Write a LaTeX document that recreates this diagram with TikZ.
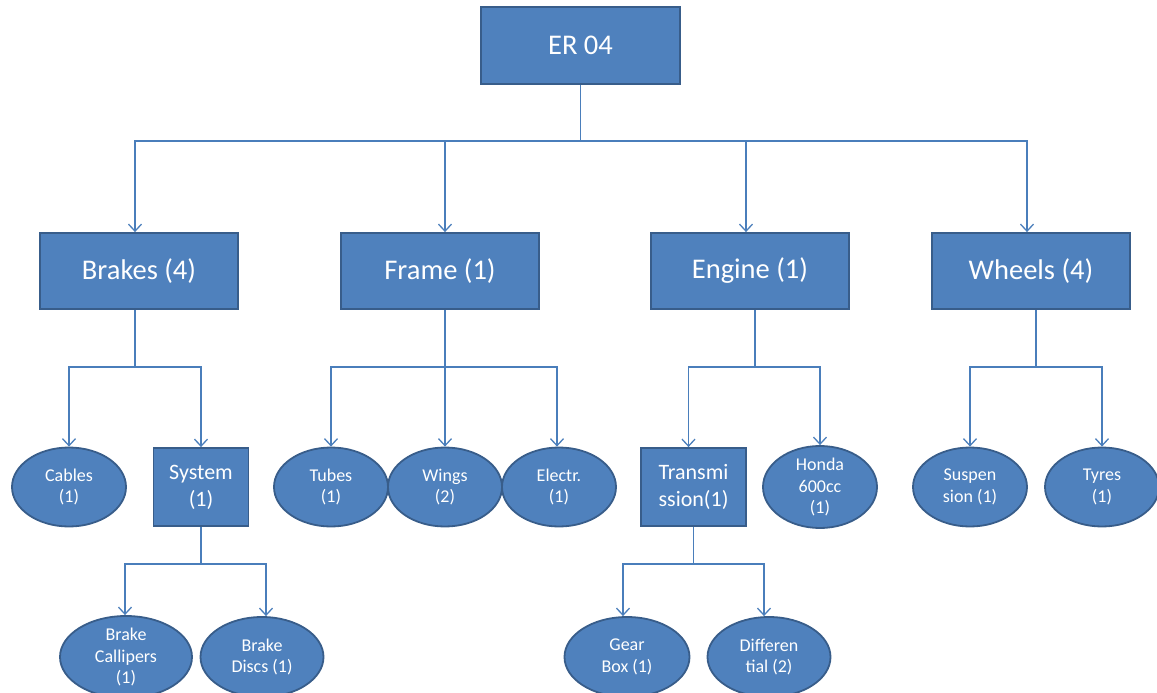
\documentclass[tikz,border=0pt]{standalone}
\usepackage{fontspec}
\setmainfont{Carlito}
\usetikzlibrary{shapes.geometric,arrows.meta}
\definecolor{boxfill}{HTML}{4F81BD}
\definecolor{boxedge}{HTML}{385D8A}
\definecolor{wire}{HTML}{4A7EBB}
\tikzset{
  base/.style={fill=boxfill, draw=boxedge, line width=1.8pt, text=white, align=center, inner sep=0pt},
  topbox/.style={base, rectangle, minimum width=199pt, minimum height=77pt, font=\fontsize{28.5}{32}\selectfont},
  groupbox/.style={base, rectangle, minimum width=198pt, minimum height=76pt, font=\fontsize{28.5}{32}\selectfont},
  subbox/.style={base, rectangle, minimum height=78pt, font=\fontsize{22}{27}\selectfont},
  part/.style={base, ellipse, minimum height=79pt, font=\fontsize{18}{21.5}\selectfont},
  conn/.style={draw=wire, line width=1.3pt},
  arr/.style={conn, -{Straight Barb[length=7pt,width=13pt,line width=1.3pt]}},
}
\begin{document}
\begin{tikzpicture}[x=1pt,y=-1pt]
\useasboundingbox (0,0) rectangle (1157,693);

% top level
\node[topbox] (root) at (580.5,45.5) {ER 04};

% main groups
\node[groupbox] (brakes) at (139,271) {Brakes (4)};
\node[groupbox] (frame)  at (440,271) {Frame (1)};
\node[groupbox] (engine) at (750,271) {Engine (1)};
\node[groupbox] (wheels) at (1031,271) {Wheels (4)};

% second level
\node[part, minimum width=114pt] (cables) at (69,487) {Cables\\(1)};
\node[subbox, minimum width=95pt] (system) at (201,487) {System\\(1)};
\node[part, minimum width=114pt] (tubes) at (331,487) {Tubes\\(1)};
\node[part, minimum width=114pt] (wings) at (445,487) {Wings\\(2)};
\node[part, minimum width=114pt] (electr) at (559,487) {Electr.\\(1)};
\node[subbox, minimum width=105pt] (trans) at (693.5,487) {Transmi\\ssion(1)};
\node[part, minimum width=114pt] (honda) at (820,487) {Honda\\600cc\\(1)};
\node[part, minimum width=114pt] (susp) at (970,487) {Suspen\\sion (1)};
\node[part, minimum width=114pt] (tyres) at (1102,487) {Tyres\\(1)};

% third level
\node[part, minimum width=132pt, minimum height=80pt] (callipers) at (126,657) {Brake\\Callipers\\(1)};
\node[part, minimum width=123pt, minimum height=80pt] (discs) at (262,657) {Brake\\Discs (1)};
\node[part, minimum width=125pt, minimum height=80pt] (gearbox) at (627,657) {Gear\\Box (1)};
\node[part, minimum width=123pt, minimum height=80pt] (diff) at (769,657) {Differen\\tial (2)};

% root to groups
\draw[conn] (root.south) -- ++(0,56) coordinate (h0);
\draw[arr] (h0) -| ([xshift=-4pt]brakes.north);
\draw[arr] (h0) -| ([xshift=5pt]frame.north);
\draw[arr] (h0) -| ([xshift=-4pt]engine.north);
\draw[arr] (h0) -| ([xshift=-4pt]wheels.north);

% groups to parts
\draw[conn] ([xshift=-4pt]brakes.south) -- ++(0,57) coordinate (hb);
\draw[arr] (hb) -| (cables.north);
\draw[arr] (hb) -| (system.north);

\draw[conn] ([xshift=5pt]frame.south) -- ++(0,57) coordinate (hf);
\draw[arr] (hf) -| (tubes.north);
\draw[arr] (hf) -| (wings.north);
\draw[arr] (hf) -| ([xshift=-2pt]electr.north);

\draw[conn] ([xshift=5pt]engine.south) -- ++(0,57) coordinate (he);
\draw[arr] (he) -| ([xshift=-5pt]trans.north);
\draw[arr] (he) -| (honda.north);

\draw[conn] ([xshift=5pt]wheels.south) -- ++(0,57) coordinate (hw);
\draw[arr] (hw) -| (susp.north);
\draw[arr] (hw) -| (tyres.north);

% sub-assemblies to parts
\draw[conn] (system.south) -- ++(0,37) coordinate (hs);
\draw[arr] (hs) -| ([xshift=-1pt]callipers.north);
\draw[arr] (hs) -| ([xshift=4pt]discs.north);

\draw[conn] (trans.south) -- ++(0,37) coordinate (ht);
\draw[arr] (ht) -| ([xshift=-4pt]gearbox.north);
\draw[arr] (ht) -| ([xshift=-5pt]diff.north);
\end{tikzpicture}
\end{document}
